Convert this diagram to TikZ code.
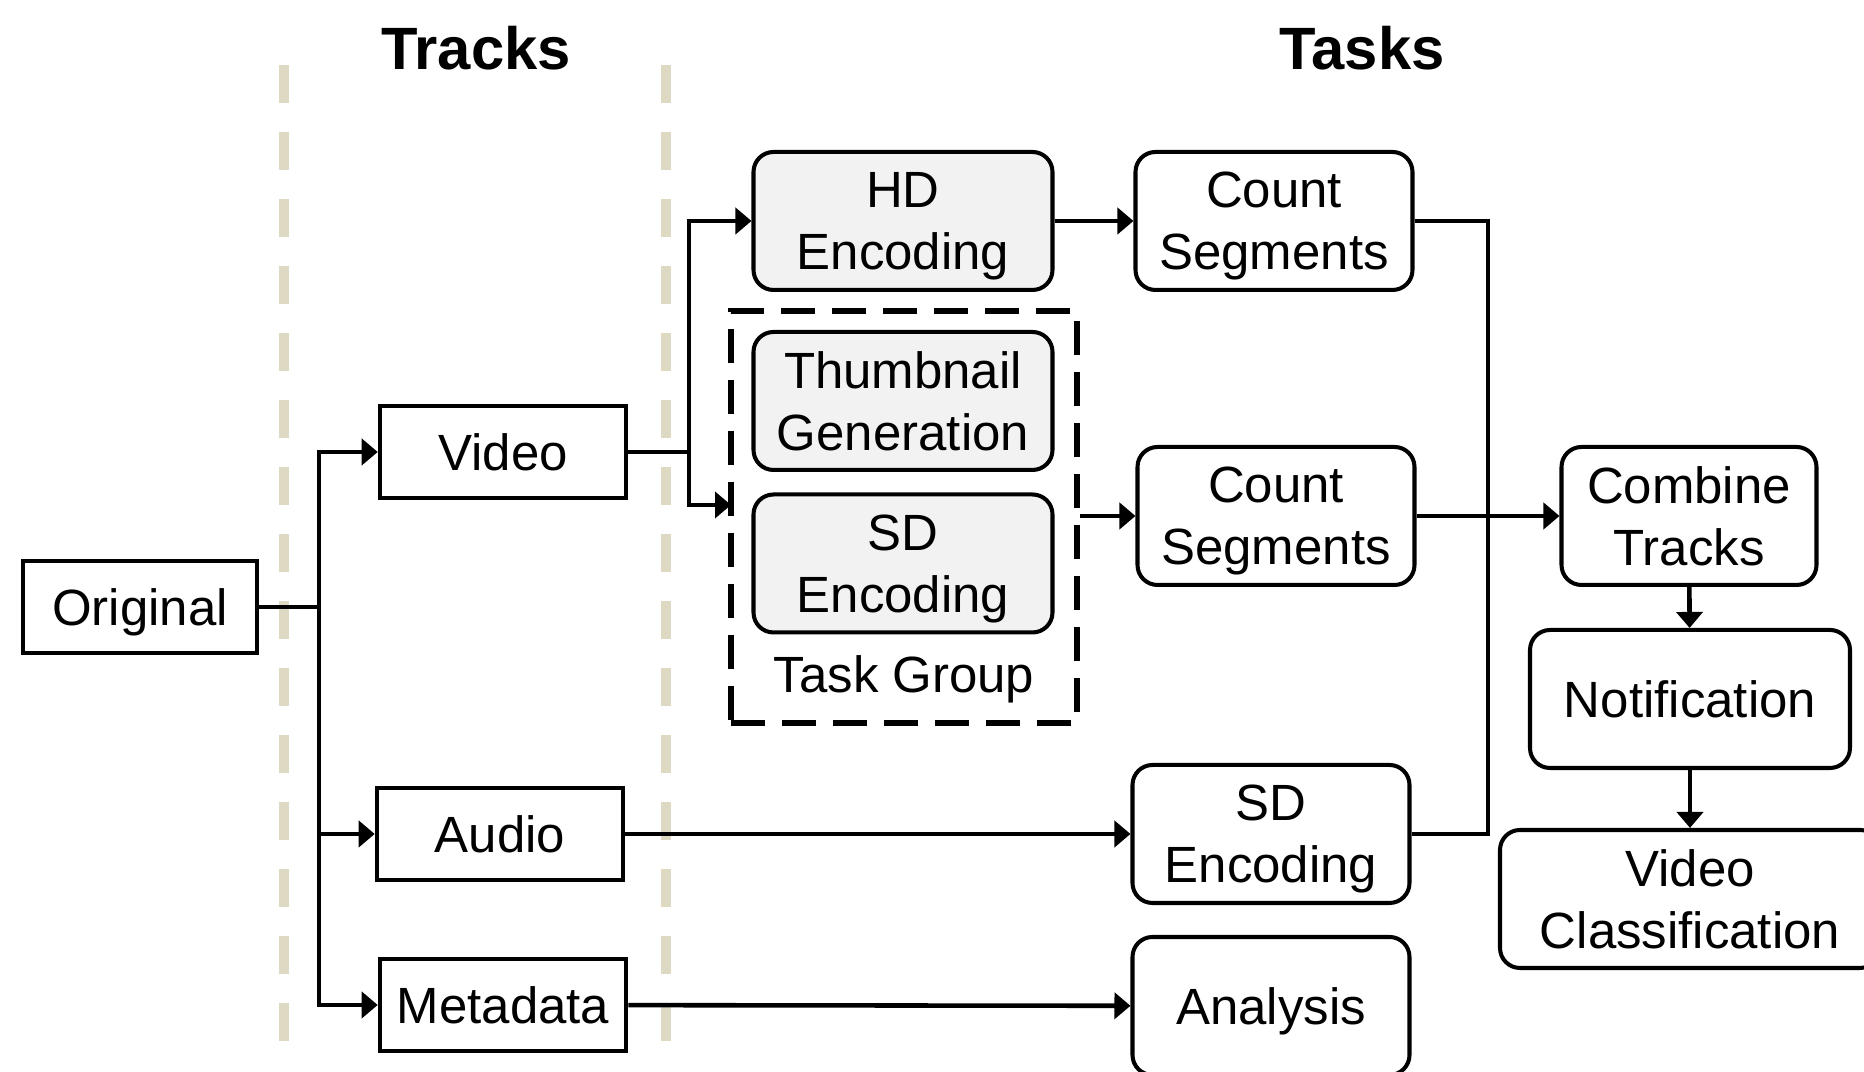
\documentclass[tikz,border=0pt]{standalone}
\usepackage{fontspec}
\setmainfont{Liberation Sans}
\usepackage{xcolor}
\usepackage{tikz}
\usetikzlibrary{arrows.meta}

\definecolor{sepcol}{HTML}{DDD9C3}
\tikzset{
  lbl/.style={font=\fontsize{14.5}{17.6}\selectfont,align=center,inner sep=0pt,text depth=0pt},
  trackbox/.style={lbl,draw,line width=1.3pt,minimum width=2.46cm,minimum height=0.92cm},
  taskbox/.style={lbl,draw,line width=1.15pt,rounded corners=0.2cm,minimum width=2.77cm,minimum height=1.38cm},
  subtask/.style={taskbox,fill=gray!10,minimum width=2.99cm},
  arr/.style={line width=1.3pt,-{Triangle[length=0.16cm,width=0.26cm]}},
  conn/.style={line width=1.3pt},
  sepline/.style={sepcol,line width=2.8pt,dash pattern=on 0.38cm off 0.29cm},
  title/.style={font=\fontsize{17}{20}\selectfont\bfseries}
}

\begin{document}
\begin{tikzpicture}
  \useasboundingbox (0,0) rectangle (18.64,10.72);
  \clip (0,0) rectangle (18.64,10.72);
  % column titles and separators
  \node[title] (tracks) at (4.76,10.24) {Tracks};
  \node[title] (tasks) at (13.62,10.24) {Tasks};
  \draw[sepline] (2.84,10.07)--(2.84,0.23);
  \draw[sepline] (6.66,10.07)--(6.66,0.23);
  % tracks
  \node[trackbox,minimum width=2.34cm] (orig) at (1.40,4.65) {Original};
  \node[trackbox] (video) at (5.03,6.20) {Video};
  \node[trackbox] (audio) at (5.00,2.38) {Audio};
  \node[trackbox] (meta) at (5.03,0.67) {Metadata};
  % tasks
  \node[draw,line width=1.45pt,dash pattern=on 0.34cm off 0.17cm,minimum width=3.46cm,minimum height=4.12cm] (grp) at (9.04,5.55) {};
  \node[subtask] (hd) at (9.03,8.51) {HD\\Encoding};
  \node[subtask] (thumb) at (9.03,6.71) {Thumbnail\\Generation};
  \node[subtask] (sdgrp) at (9.03,5.085) {SD\\Encoding};
  \node[lbl] (grplabel) at (9.04,3.98) {Task Group};
  \node[taskbox] (cs1) at (12.74,8.51) {Count\\Segments};
  \node[taskbox] (cs2) at (12.76,5.56) {Count\\Segments};
  \node[taskbox] (sdw) at (12.71,2.38) {SD\\Encoding};
  \node[taskbox] (analysis) at (12.71,0.66) {Analysis};
  \node[taskbox,minimum width=2.55cm] (combine) at (16.89,5.56) {Combine\\Tracks};
  \node[taskbox,minimum width=3.2cm] (notif) at (16.90,3.73) {Notification};
  \node[taskbox,minimum width=3.8cm] (vclass) at (16.90,1.73) {Video\\Classification};
  % connectors
  \coordinate (trunk) at (3.19,4.65);
  \coordinate (vsplit) at (6.89,6.20);
  \coordinate (ginp) at (7.31,5.67);
  \coordinate (merge) at (14.88,5.56);
  \draw[conn] (orig.east) -- (trunk);
  \draw[arr] (trunk) |- (video.west);
  \draw[arr] (trunk) |- (audio.west);
  \draw[arr] (trunk) |- (meta.west);
  \draw[conn] (video.east) -- (vsplit);
  \draw[arr] (vsplit) |- (hd.west);
  \draw[arr] (vsplit) |- (ginp);
  \draw[arr] (hd) -- (cs1);
  \draw[arr] (grp.east |- cs2) -- (cs2);
  \draw[arr] (audio) -- (sdw);
  \draw[arr] (meta) -- (analysis);
  \draw[conn] (cs1.east) -| (merge) |- (sdw.east);
  \draw[arr] (cs2) -- (combine);
  \draw[arr] (combine) -- (notif);
  \draw[arr] (notif) -- (vclass);
\end{tikzpicture}
\end{document}
